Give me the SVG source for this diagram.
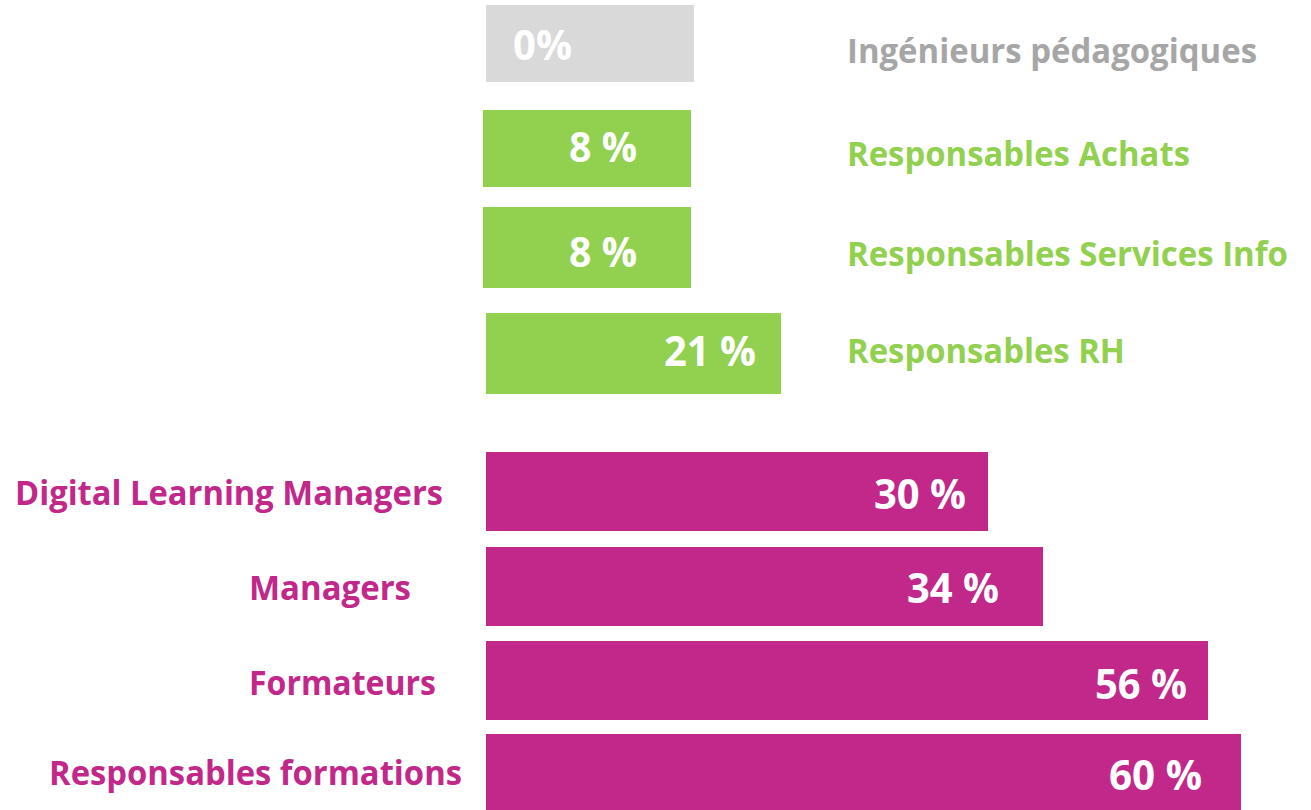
<svg xmlns="http://www.w3.org/2000/svg" width="1311" height="810" viewBox="0 0 1311 810">
<style>
text{font-family:"Open Sans","Noto Sans","Liberation Sans",sans-serif;font-weight:bold}
.lbl{font-size:34px}
.pct{font-size:42px;fill:#FFFFFF}
.gray{fill:#D9D9D9}
.grayT{fill:#A6A6A6}
.green{fill:#92D050}
.mag{fill:#C1288A}
</style>
<rect width="1311" height="810" fill="#FFFFFF"/>
<g id="ingenieurs">
<rect class="gray" x="486" y="5" width="208" height="77"/>
<text class="pct" x="513" y="60" textLength="59" lengthAdjust="spacingAndGlyphs">0%</text>
<text class="lbl grayT" x="847" y="63" textLength="410" lengthAdjust="spacingAndGlyphs">Ingénieurs pédagogiques</text>
</g>
<g id="achats">
<rect class="green" x="483" y="110" width="208" height="77"/>
<text class="pct" x="569" y="162" textLength="68" lengthAdjust="spacingAndGlyphs">8 %</text>
<text class="lbl" fill="#92D050" x="847" y="166" textLength="343" lengthAdjust="spacingAndGlyphs">Responsables Achats</text>
</g>
<g id="services-info">
<rect class="green" x="483" y="207" width="208" height="81"/>
<text class="pct" x="569" y="267" textLength="68" lengthAdjust="spacingAndGlyphs">8 %</text>
<text class="lbl" fill="#92D050" x="847" y="266" textLength="441" lengthAdjust="spacingAndGlyphs">Responsables Services Info</text>
</g>
<g id="rh">
<rect class="green" x="486" y="313" width="295" height="81"/>
<text class="pct" x="664" y="366" textLength="92" lengthAdjust="spacingAndGlyphs">21 %</text>
<text class="lbl" fill="#92D050" x="847" y="363" textLength="278" lengthAdjust="spacingAndGlyphs">Responsables RH</text>
</g>
<g id="dlm">
<rect class="mag" x="486" y="452" width="502" height="79"/>
<text class="pct" x="874" y="509" textLength="92" lengthAdjust="spacingAndGlyphs">30 %</text>
<text class="lbl" fill="#C1288A" x="15" y="505" textLength="428" lengthAdjust="spacingAndGlyphs">Digital Learning Managers</text>
</g>
<g id="managers">
<rect class="mag" x="486" y="547" width="557" height="79"/>
<text class="pct" x="907" y="603" textLength="92" lengthAdjust="spacingAndGlyphs">34 %</text>
<text class="lbl" fill="#C1288A" x="249" y="600" textLength="162" lengthAdjust="spacingAndGlyphs">Managers</text>
</g>
<g id="formateurs">
<rect class="mag" x="486" y="641" width="722" height="79"/>
<text class="pct" x="1095" y="699" textLength="92" lengthAdjust="spacingAndGlyphs">56 %</text>
<text class="lbl" fill="#C1288A" x="249" y="695" textLength="187" lengthAdjust="spacingAndGlyphs">Formateurs</text>
</g>
<g id="resp-formations">
<rect class="mag" x="486" y="734" width="755" height="76"/>
<text class="pct" x="1109" y="790" textLength="93" lengthAdjust="spacingAndGlyphs">60 %</text>
<text class="lbl" fill="#C1288A" x="49" y="785" textLength="413" lengthAdjust="spacingAndGlyphs">Responsables formations</text>
</g>
</svg>
